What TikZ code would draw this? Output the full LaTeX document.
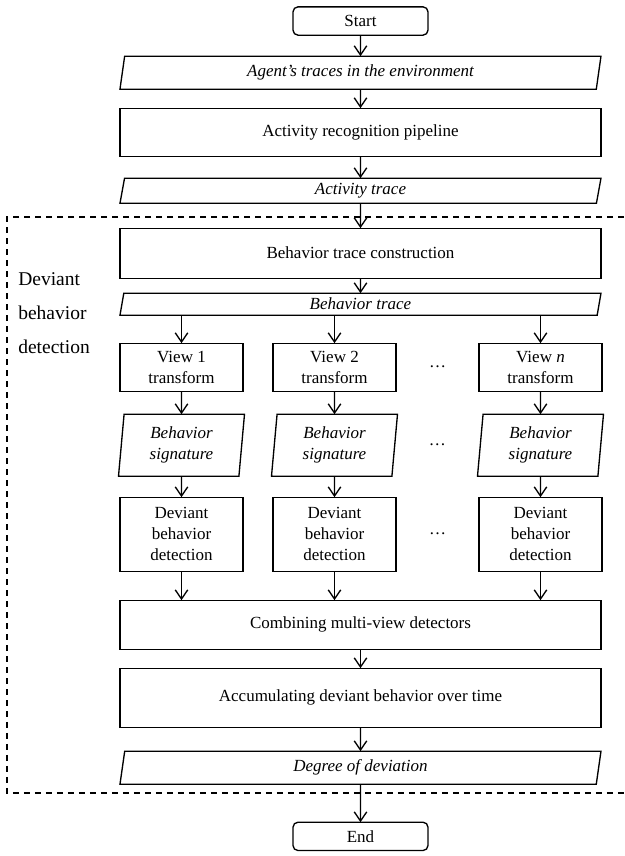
\documentclass[tikz,border=0pt]{standalone}
\usepackage{fontspec}
\setmainfont{Liberation Serif}
\usetikzlibrary{arrows.meta,positioning,calc,shapes.geometric}
\newcommand{\bfnt}{\fontsize{10.2}{12.6}\selectfont}
\tikzset{
  tbox/.style={draw, line width=0.8pt, rounded corners=3pt, minimum width=81pt,
               minimum height=17pt, inner sep=0pt, outer sep=0pt, font=\bfnt},
  pbox/.style={draw, line width=0.8pt, align=center, inner sep=1pt, outer sep=0pt,
               minimum width=#1, font=\bfnt},
  iobox/.style={draw, line width=0.8pt, trapezium, trapezium left angle=76,
                trapezium right angle=104, trapezium stretches body,
                align=center, inner sep=1pt, outer sep=0pt, minimum width=#1,
                font=\bfnt\itshape},
  farr/.style={-{Straight Barb[length=5.5pt,width=7.5pt]}, line width=0.8pt},
  dotl/.style={font=\bfnt, inner sep=0pt},
  grplbl/.style={font=\fontsize{11.7}{20.4}\selectfont, align=left, anchor=west, inner sep=0pt},
}

\begin{document}
\begin{tikzpicture}[x=0.6pt, y=-0.6pt]
\useasboundingbox (0,0) rectangle (624,856);
% main column
\node[tbox] (start) at (360.5,21) {Start};
\node[iobox=288.6pt, minimum height=19.8pt, below=12.6pt of start] (agent)
  {Agent’s traces in the environment};
\node[pbox=288.6pt, minimum height=28.8pt, below=11.4pt of agent] (arp)
  {Activity recognition pipeline};
\node[iobox=288.6pt, minimum height=15pt, below=13.2pt of arp] (act) {Activity trace};
\node[pbox=288.6pt, minimum height=30pt, below=15pt of act] (btc)
  {Behavior trace construction};
\node[iobox=288.6pt, minimum height=13.2pt, below=9pt of btc] (bt) {Behavior trace};
% the views
\node[pbox=73.8pt, minimum height=28.8pt, below=16.8pt of btc.south west |- bt.bottom left corner,
      anchor=north west] (v1) {View 1\\transform};
\node[pbox=73.8pt, minimum height=28.8pt, right=18pt of v1] (v2) {View 2\\transform};
\node[pbox=73.8pt, minimum height=28.8pt, right=49.8pt of v2] (vn) {View \textit{n}\\transform};
\foreach \c in {1,2,n}{
  \node[iobox=75.6pt, minimum height=37.2pt, trapezium left angle=82,
        trapezium right angle=98, below=13.8pt of v\c] (s\c) {Behavior\\signature};
  \node[pbox=73.8pt, minimum height=44.4pt, below=12.6pt of s\c] (d\c)
    {Deviant\\behavior\\detection};
}
\node[dotl] (dt1) at ($(v2.east)!0.5!(vn.west)$) {\ldots};
\node[dotl] (dt2) at ($(s2.east)!0.5!(sn.west)$) {\ldots};
\node[dotl] (dt3) at ($(d2.east)!0.5!(dn.west)$) {\ldots};
\node[pbox=288.6pt, minimum height=29.4pt, below=17.4pt of d1.south west, anchor=north west] (comb)
  {Combining multi-view detectors};
\node[pbox=288.6pt, minimum height=35.4pt, below=11.4pt of comb] (acc)
  {Accumulating deviant behavior over time};
\node[iobox=288.6pt, minimum height=19.8pt, below=14.4pt of acc] (deg) {Degree of deviation};
\node[tbox, below=22.8pt of deg] (end) {End};
% dashed group
\draw[line width=0.7pt, dash pattern=on 3.6pt off 3pt] (624,217) -- (7,217) -- (7,793) -- (624,793);
\node[grplbl] (grp) at (18,313) {Deviant\\behavior\\detection};
% connectors
\draw[farr] (start) -- (agent);
\draw[farr] (agent) -- (arp);
\draw[farr] (arp) -- (act);
\draw[farr] (act) -- (btc);
\draw[farr] (btc) -- (bt);
\foreach \c in {1,2,n}{
  \draw[farr] (bt.south -| v\c.north) -- (v\c);
  \draw[farr] (v\c) -- (s\c);
  \draw[farr] (s\c) -- (d\c);
  \draw[farr] (d\c) -- (d\c.south |- comb.north);
}
\draw[farr] (comb) -- (acc);
\draw[farr] (acc) -- (deg);
\draw[farr] (deg) -- (end);
\end{tikzpicture}
\end{document}
